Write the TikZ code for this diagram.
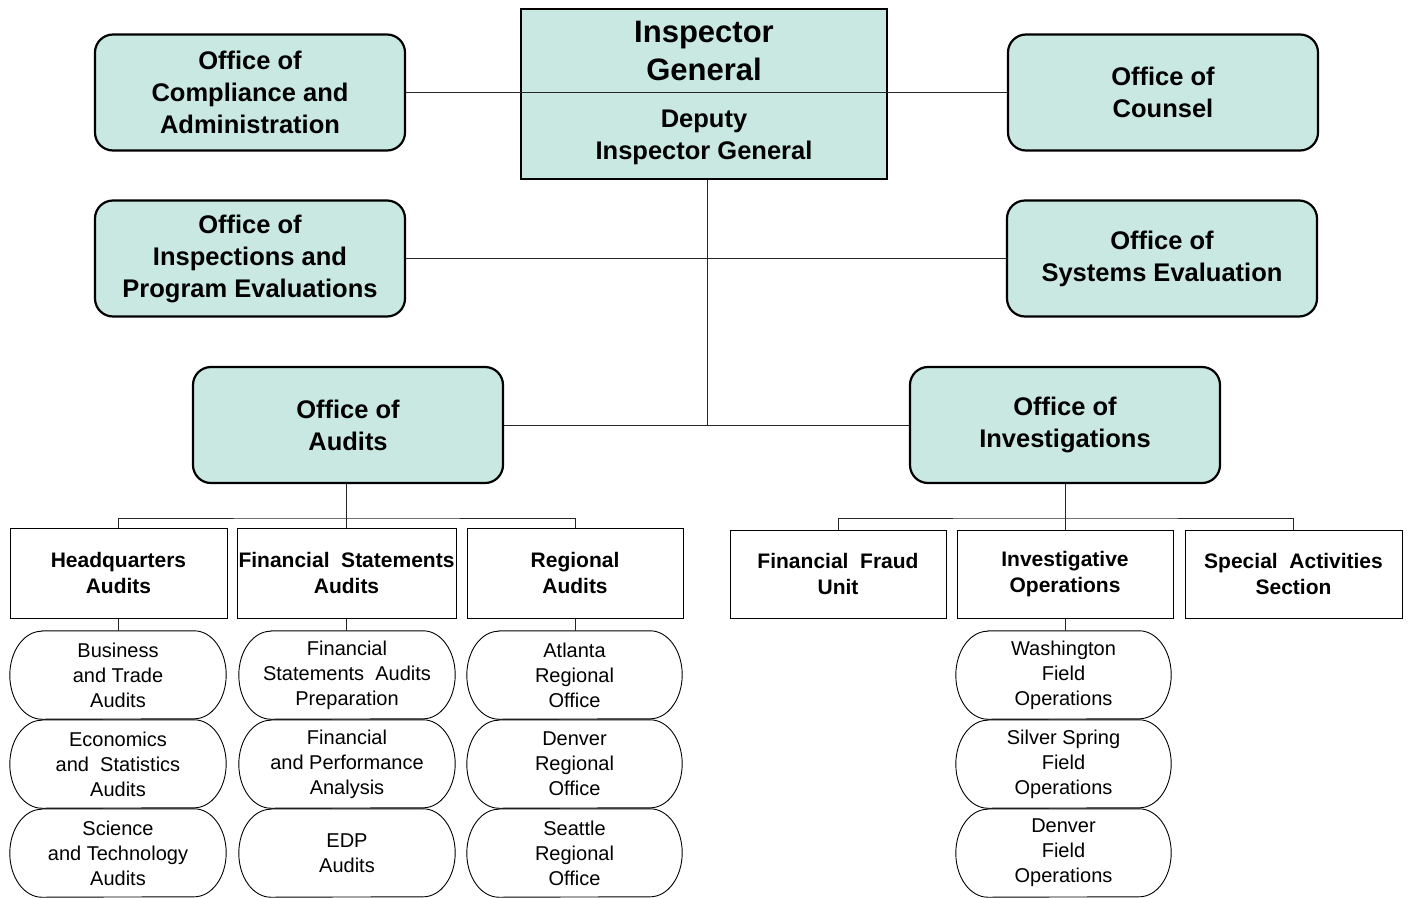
\documentclass[tikz,border=0pt]{standalone}
\usepackage{fontspec}
\setmainfont{Liberation Sans}
\definecolor{teal1}{RGB}{201,232,225}
\newcommand\ovalframe[1]{\draw[line width=0.9pt] ([xshift=32pt]#1.north west) -- ([xshift=-32pt]#1.north east)
  arc[start angle=90,end angle=-90,x radius=32pt,y radius=44pt] -- ([xshift=32pt]#1.south west)
  arc[start angle=270,end angle=90,x radius=32pt,y radius=44pt] -- cycle;}
\begin{document}
\begin{tikzpicture}[x=1pt,y=-1pt,
  office/.style={draw=black,line width=2.2pt,fill=teal1,rounded corners=18pt,
    inner sep=0pt,minimum width=310pt,minimum height=116pt,align=center,
    font=\fontsize{25.5}{32}\selectfont\bfseries},
  igbox/.style={draw=black,line width=2pt,fill=teal1,inner sep=0pt,
    minimum width=366pt,minimum height=170pt},
  unit/.style={draw=black,line width=1pt,fill=white,inner sep=0pt,
    minimum width=216pt,minimum height=89pt,align=center,
    font=\fontsize{21}{25.5}\selectfont\bfseries},
  branch/.style={inner sep=0pt,minimum width=215pt,minimum height=88pt,align=center,
    font=\fontsize{20}{25}\selectfont},
  conn/.style={draw=black!85,line width=1pt}]
\useasboundingbox (0,0) rectangle (1408,897);

% top level
\node[igbox] (ig) at (704,94) {};
\node[office] (oca) at (250,92.5) {Office of\\Compliance and\\Administration};
\node[office] (oc) at (1163,92.5) {Office of\\Counsel};
\node[office] (oipe) at (250,258.5) {Office of\\Inspections and\\Program Evaluations};
\node[office] (ose) at (1162,258.5) {Office of\\Systems Evaluation};
\node[office] (aud) at (348,425) {Office of\\Audits};
\node[office] (inv) at (1065,425) {Office of\\Investigations};

\draw[conn] (oca.east) -- (oc.west);
\node[align=center,font=\fontsize{31}{38}\selectfont\bfseries] (igt) at (704,51) {Inspector\\General};
\node[align=center,font=\fontsize{25.5}{32}\selectfont\bfseries] (dig) at (704,137) {Deputy\\Inspector General};

\coordinate (spine) at (707,425);
\draw[conn] (ig.south -| spine) -- (spine);
\draw[conn] (oipe.east) -- (ose.west);
\draw[conn] (aud.east) -- (inv.west);

% audits units
\node[unit,minimum width=217pt,minimum height=90pt] (hq) at (118.5,573) {Headquarters\\Audits};
\node[unit,minimum width=219pt,minimum height=90pt] (fs) at (346.5,573) {Financial\ \ Statements\\Audits};
\node[unit,minimum height=90pt] (reg) at (575,573) {Regional\\Audits};
\coordinate (abus) at (346.5,518);
\draw[conn] (hq.north) |- (abus) -| (reg.north);
\draw[conn] (fs.north |- aud.south) -- (fs.north);

% investigations units
\node[unit,minimum height=88pt] (ffu) at (838,574) {Financial\ \ Fraud\\Unit};
\node[unit,minimum height=88pt] (io) at (1065,574) {Investigative\\Operations};
\node[unit,minimum width=217pt,minimum height=88pt] (sas) at (1293.5,574) {Special\ \ Activities\\Section};
\coordinate (ibus) at (1065,518);
\draw[conn] (ffu.north) |- (ibus) -| (sas.north);
\draw[conn] (inv.south) -- (io.north);

% branches
\node[branch,minimum width=216pt] (b11) at (118,675) {Business\\and Trade\\Audits};
\node[branch,minimum width=216pt] (b12) at (118,764) {Economics\\and\ \ Statistics\\Audits};
\node[branch,minimum width=216pt] (b13) at (118,853) {Science\\and Technology\\Audits};
\node[branch,minimum width=216pt] (b21) at (347,675) {Financial\\Statements\ \ Audits\\Preparation};
\node[branch,minimum width=216pt] (b22) at (347,764) {Financial\\and Performance\\Analysis};
\node[branch,minimum width=216pt] (b23) at (347,853) {EDP\\Audits};
\node[branch] (b31) at (574.5,675) {Atlanta\\Regional\\Office};
\node[branch] (b32) at (574.5,764) {Denver\\Regional\\Office};
\node[branch] (b33) at (574.5,853) {Seattle\\Regional\\Office};
\node[branch] (b41) at (1063.5,675) {Washington\\Field\\Operations};
\node[branch] (b42) at (1063.5,764) {Silver Spring\\Field\\Operations};
\node[branch] (b43) at (1063.5,853) {Denver\\Field\\Operations};

\foreach \n in {b11,b12,b13,b21,b22,b23,b31,b32,b33,b41,b42,b43}{\ovalframe{\n}}

\draw[conn] (hq.south) -- (hq.south |- b11.north);
\draw[conn] (fs.south) -- (fs.south |- b21.north);
\draw[conn] (reg.south) -- (reg.south |- b31.north);
\draw[conn] (io.south) -- (io.south |- b41.north);
\end{tikzpicture}
\end{document}
